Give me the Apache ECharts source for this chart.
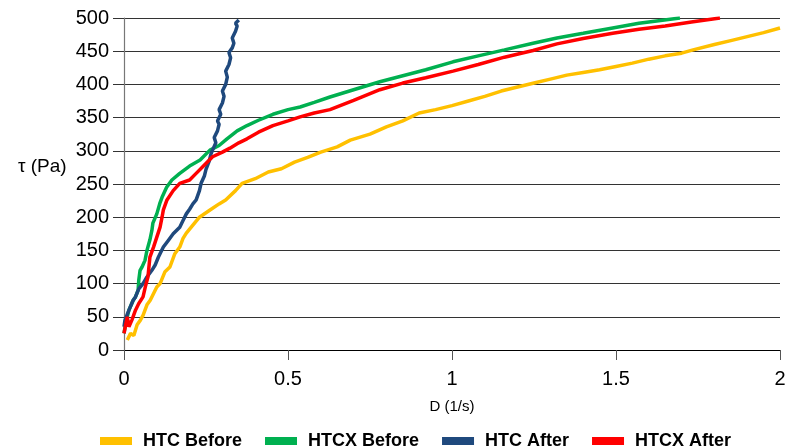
<!DOCTYPE html>
<html>
<head>
<meta charset="utf-8">
<script src="https://cdn.jsdelivr.net/npm/echarts@6.0.0/dist/echarts.min.js"></script>
<style>
  html, body { margin: 0; padding: 0; background: #fff; }
  #chart-container { width: 798px; height: 446px; }
</style>
</head>
<body>
<div id="chart-container"></div>
<script>
// Series names (legend order)
const seriesNames = ["HTC Before", "HTCX Before", "HTC After", "HTCX After"];
const seriesColors = ["#FFC000", "#00B050", "#1F497D", "#FF0000"];

// [D (1/s), tau (Pa)]
const htcBefore = [
  [0.01, 15], [0.02, 25], [0.03, 22], [0.04, 38], [0.05, 45], [0.058, 52],
  [0.07, 68], [0.08, 75], [0.1, 95], [0.11, 100], [0.125, 118], [0.14, 125],
  [0.155, 145], [0.17, 155], [0.18, 168], [0.19, 176], [0.21, 188], [0.23, 200],
  [0.26, 210], [0.29, 220], [0.31, 226], [0.34, 240], [0.36, 251], [0.4, 258],
  [0.44, 268], [0.48, 273], [0.52, 283], [0.56, 290], [0.6, 298], [0.65, 306],
  [0.69, 316], [0.75, 325], [0.8, 336], [0.85, 345], [0.9, 357], [0.95, 362],
  [1.0, 368], [1.05, 375], [1.1, 382], [1.15, 390], [1.2, 396], [1.25, 402],
  [1.3, 408], [1.35, 414], [1.4, 418], [1.45, 422], [1.5, 427], [1.55, 432],
  [1.6, 438], [1.65, 443], [1.7, 447], [1.735, 452], [1.8, 460], [1.85, 466],
  [1.9, 472], [1.95, 478], [2.0, 485]
];

const htcxBefore = [
  [0.0, 25], [0.005, 40], [0.015, 60], [0.028, 75], [0.035, 80], [0.043, 90],
  [0.045, 105], [0.049, 120], [0.055, 125], [0.064, 135], [0.07, 150], [0.079, 166],
  [0.085, 180], [0.088, 191], [0.1, 205], [0.11, 222], [0.116, 230], [0.13, 245],
  [0.146, 256], [0.17, 266], [0.2, 277], [0.232, 286], [0.262, 301], [0.29, 308],
  [0.314, 318], [0.345, 330], [0.375, 338], [0.41, 346], [0.454, 355], [0.5, 362],
  [0.537, 366], [0.58, 373], [0.628, 381], [0.7, 392], [0.78, 404], [0.85, 413],
  [0.92, 422], [1.003, 434], [1.08, 443], [1.16, 452], [1.247, 462], [1.32, 470],
  [1.4, 477], [1.49, 485], [1.57, 492], [1.63, 496], [1.695, 500]
];

const htcAfter = [
  [0.0, 35], [0.003, 45], [0.015, 60], [0.028, 75], [0.035, 80], [0.045, 92],
  [0.058, 100], [0.07, 110], [0.085, 120], [0.095, 128], [0.105, 140], [0.12, 155],
  [0.135, 165], [0.15, 175], [0.17, 185], [0.18, 195], [0.19, 205], [0.2, 212],
  [0.21, 220], [0.22, 226], [0.23, 240], [0.235, 251], [0.245, 262], [0.25, 272],
  [0.26, 285], [0.265, 295], [0.27, 301], [0.28, 312], [0.275, 320], [0.285, 330],
  [0.29, 340], [0.285, 345], [0.295, 355], [0.29, 362], [0.3, 372], [0.305, 382],
  [0.3, 390], [0.31, 400], [0.315, 411], [0.31, 420], [0.32, 430], [0.325, 440],
  [0.32, 448], [0.33, 455], [0.335, 462], [0.33, 470], [0.34, 480], [0.345, 488],
  [0.34, 492], [0.35, 497]
];

const htcxAfter = [
  [0.0, 25], [0.01, 50], [0.015, 35], [0.024, 45], [0.035, 60], [0.045, 70],
  [0.058, 80], [0.065, 95], [0.073, 110], [0.076, 125], [0.079, 140], [0.09, 155],
  [0.1, 170], [0.11, 185], [0.116, 200], [0.12, 211], [0.131, 226], [0.15, 240],
  [0.17, 251], [0.2, 256], [0.22, 266], [0.24, 276], [0.27, 291], [0.3, 298],
  [0.323, 304], [0.35, 312], [0.375, 318], [0.41, 328], [0.454, 338], [0.5, 345],
  [0.537, 351], [0.58, 357], [0.628, 362], [0.7, 376], [0.78, 392], [0.85, 402],
  [0.92, 410], [1.003, 420], [1.08, 430], [1.16, 441], [1.247, 451], [1.32, 461],
  [1.4, 469], [1.49, 477], [1.57, 483], [1.65, 488], [1.73, 494], [1.817, 500]
];

const allData = [htcBefore, htcxBefore, htcAfter, htcxAfter];

const dom = document.getElementById("chart-container");
const myChart = echarts.init(dom, null, { renderer: "canvas" });

const fontFam = "'Liberation Sans', Arial, sans-serif";

const option = {
  animation: false,
  grid: { left: 124, right: 18, top: 18, bottom: 96 },
  xAxis: {
    type: "value",
    min: 0,
    max: 2,
    interval: 0.5,
    name: "D (1/s)",
    nameLocation: "middle",
    nameGap: 49,
    nameTextStyle: { fontFamily: fontFam, fontSize: 15, color: "#000" },
    axisLine: { show: true, lineStyle: { color: "#000", width: 1.2 } },
    axisTick: { show: true, length: 10, lineStyle: { color: "#555" } },
    axisLabel: { fontFamily: fontFam, fontSize: 20, color: "#000", margin: 19 },
    splitLine: { show: false }
  },
  yAxis: {
    type: "value",
    min: 0,
    max: 500,
    interval: 50,
    axisLine: { show: true, lineStyle: { color: "#777", width: 1.2 } },
    axisTick: { show: true, length: 11, lineStyle: { color: "#333" } },
    axisLabel: { fontFamily: fontFam, fontSize: 20, color: "#000", margin: 15 },
    splitLine: { show: true, lineStyle: { color: "#333", width: 1.2 } }
  },
  legend: {
    left: 95,
    top: 427,
    itemWidth: 32,
    itemHeight: 8,
    itemGap: 23,
    icon: "rect",
    textStyle: {
      fontFamily: fontFam,
      fontSize: 18,
      fontWeight: "bold",
      color: "#000",
      padding: [0, 0, 0, 6]
    },
    data: seriesNames
  },
  graphic: [
    {
      type: "text",
      left: 18,
      top: 157,
      style: { text: "τ (Pa)", fontFamily: fontFam, fontSize: 19, fill: "#000" }
    }
  ],
  series: seriesNames.map((name, i) => ({
    name: name,
    type: "line",
    data: allData[i],
    showSymbol: false,
    color: seriesColors[i],
    lineStyle: { width: 3.5, color: seriesColors[i] }
  }))
};

myChart.setOption(option);
window.addEventListener("resize", myChart.resize);
</script>
</body>
</html>
